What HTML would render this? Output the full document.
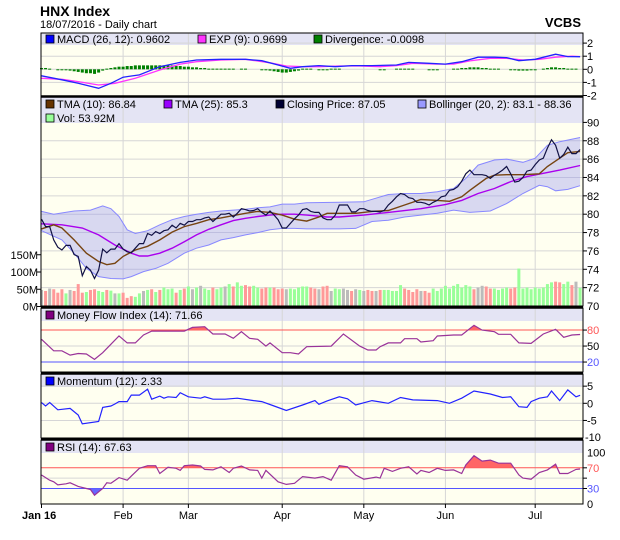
<!DOCTYPE html>
<html><head><meta charset="utf-8">
<style>
html,body{margin:0;padding:0;background:#fff;}
body{width:620px;height:535px;overflow:hidden;font-family:"Liberation Sans",sans-serif;}
svg text{font-family:"Liberation Sans",sans-serif;}
</style></head>
<body>
<svg id="chart" width="620" height="535" viewBox="0 0 620 535" xmlns="http://www.w3.org/2000/svg">
<text x="40" y="16" font-size="14" font-weight="bold" fill="#000">HNX Index</text>
<text x="40" y="28" font-size="11" fill="#000">18/07/2016 - Daily chart</text>
<text x="581" y="27" font-size="13" font-weight="bold" text-anchor="end" fill="#000">VCBS</text>
</svg>
<script>
// ---- data ----
const monthLabels = ["Jan 16","Feb","Mar","Apr","May","Jun","Jul"];
const monthStartIdx = [0,20,36,59,79,99,121];
const closePrice = [79.45,78.65,78.65,77.2,76.4,76.1,76.6,76.6,75.6,75.4,73.3,74.3,73.9,73.0,73.9,76.2,75.8,76.2,76.2,76.8,
76.2,75.9,75.8,76.3,76.8,76.8,77.9,77.7,78.1,77.9,78.2,78.3,78.8,78.5,79.0,78.8,
79.2,79.2,79.4,79.4,79.6,79.7,79.2,79.6,80.0,80.0,80.1,79.7,80.1,80.6,80.5,80.35,80.4,80.6,80.2,79.9,80.35,79.9,79.4,
78.5,78.5,79.0,79.5,79.9,80.5,80.6,80.3,80.2,80.2,79.6,79.4,79.4,79.9,81.0,81.0,81.0,80.25,80.25,80.6,
80.6,80.4,80.3,80.3,80.25,80.4,81.0,81.4,81.9,82.25,82.15,81.8,81.7,81.3,81.3,81.2,81.0,81.3,81.5,81.9,
82.0,82.6,82.7,83.0,83.6,84.4,84.8,84.3,84.3,84.3,84.2,83.9,84.25,84.5,84.8,85.2,84.4,83.5,83.6,84.0,84.7,84.8,
85.4,85.9,86.1,87.2,88.1,87.5,86.1,86.5,87.3,86.6,86.6,87.05];
const volumeM = [48,45,52,50,40,50,38,48,45,65,40,42,48,50,45,42,48,46,38,38,
40,25,30,28,38,45,48,50,42,48,55,50,52,40,48,52,
58,50,55,60,52,48,55,50,55,58,65,58,70,60,62,58,60,55,52,55,55,55,50,
52,50,52,50,55,58,58,55,52,50,58,60,45,52,50,52,48,45,50,48,
45,48,45,45,48,48,48,45,45,62,52,48,42,50,45,45,40,52,45,52,
60,52,60,65,55,62,58,50,55,60,58,52,52,48,52,55,52,55,110,52,55,50,
55,52,55,65,70,72,70,65,72,62,72,54];
const tma10Idx = [0,3,5,8,11,14,16,18,20,23,26,29,32,35,38,41,44,47,50,53,56,59,62,65,68,70,73,77,81,85,89,93,97,100,103,105,109,111,114,118,122,124,127,129,132];
const tma10Val = [78.4,78.85,78.5,77.2,75.75,74.85,74.5,74.65,75.4,76.1,76.5,77.2,78.05,78.65,79.0,79.4,79.6,79.85,80.1,80.3,80.2,79.9,79.45,79.25,79.7,80.1,80.1,80.1,80.3,80.4,81.0,81.6,81.5,81.4,81.9,82.6,83.9,84.25,84.3,84.3,84.4,85.2,86.1,86.7,86.84];
const tma25Idx = [0,5,10,14,18,22,24,26,29,32,35,38,41,44,47,50,53,56,59,62,65,70,73,79,85,93,99,103,107,111,115,119,123,127,132];
const tma25Val = [78.95,78.85,78.5,77.75,76.65,75.75,75.45,75.45,75.75,76.3,77.0,77.75,78.35,78.85,79.3,79.55,79.75,79.9,80.0,80.0,79.9,79.7,79.7,79.9,80.2,80.6,81.05,81.5,82.25,82.8,83.55,84.1,84.45,84.8,85.3];
const bollUpIdx = [0,3,8,12,15,17,19,21,23,26,29,32,35,38,41,44,47,50,53,56,59,62,65,73,79,85,89,93,97,101,104,107,111,114,118,121,124,127,132];
const bollUpVal = [80.3,80.0,80.35,80.45,80.9,80.6,79.75,78.3,77.9,78.2,78.85,79.4,79.75,80.0,80.2,80.35,80.45,80.55,80.7,80.8,81.1,81.1,81.25,81.3,81.35,82.15,82.25,82.25,82.45,82.8,83.9,85.35,85.9,86.0,85.65,86.1,87.5,87.9,88.36];
const bollLoIdx = [0,5,8,11,14,17,20,22,25,28,31,33,35,38,41,44,47,50,53,56,59,62,65,68,73,77,81,85,89,93,97,101,105,110,114,118,122,124,126,129,132];
const bollLoVal = [78.2,77.2,75.75,74.1,73.2,73.0,72.95,73.2,73.75,74.1,74.65,75.2,75.75,76.3,76.65,77.2,77.45,77.75,78.0,78.3,78.45,78.45,78.4,78.4,78.4,78.45,79.2,79.35,79.7,79.9,80.1,80.45,80.2,80.35,81.15,82.25,83.15,83.0,82.55,82.7,83.1];
const macdIdx = [0,5,9,14,17,20,24,29,34,38,44,50,54,58,61,64,68,72,76,81,87,90,95,99,103,107,111,114,117,121,126,129,132];
const macdVal = [-0.5,-0.8,-1.07,-1.45,-1.07,-0.6,-0.43,0.2,0.53,0.71,0.76,0.76,0.66,0.33,0.08,0.2,0.28,0.2,0.28,0.28,0.33,0.53,0.46,0.4,0.58,0.92,0.92,0.89,0.66,0.76,1.15,0.97,0.96];
const signalIdx = [0,5,9,14,18,23,29,34,38,44,50,56,60,64,68,73,78,83,87,91,97,101,105,110,114,118,122,126,130,132];
const signalVal = [-0.69,-0.76,-0.94,-1.2,-1.07,-0.69,-0.05,0.4,0.58,0.71,0.76,0.5,0.25,0.2,0.2,0.25,0.25,0.2,0.28,0.46,0.4,0.4,0.64,0.84,0.84,0.71,0.76,0.92,1.0,0.97];
const divergence = [0.1,0.1,0.05,0,-0.05,-0.05,-0.05,-0.1,-0.15,-0.2,-0.25,-0.3,-0.3,-0.35,-0.25,-0.1,
0.05,0.1,0.15,0.2,0.2,0.25,0.25,0.3,0.3,0.3,0.3,0.3,0.3,0.3,0.3,0.3,0.3,0.25,0.25,0.2,0.2,0.15,0.15,0.1,0.1,
0.05,0.05,0.05,0.05,0.05,0.05,0.05,0,0.05,0.05,0,0,0,
-0.05,-0.05,-0.1,-0.15,-0.2,-0.25,-0.25,-0.2,-0.15,-0.1,
0.05,0.05,0.05,0,-0.05,-0.05,-0.05,0.05,0.05,0.05,0,0,0,0,0,0,0,0,0,-0.05,-0.05,0,0,
0.05,0.05,0.05,0.05,0.05,0,0,0,-0.05,-0.05,-0.05,0,0,0,
0.05,0.05,0.1,0.1,0.15,0.15,0.15,0.1,0.1,0.05,0.05,0.05,0,0,
-0.05,-0.05,-0.1,-0.1,-0.1,-0.05,-0.05,0,
0.05,0.1,0.15,0.15,0.1,0.1,0.05,0.05,0.05,0];
const mfiIdx = [0,3,5,7,9,11,13,15,19,21,23,25,27,35,37,40,42,45,47,49,51,53,55,56,59,61,63,65,71,74,78,80,82,83,85,88,89,92,93,96,97,101,103,106,108,111,112,115,117,120,123,126,128,130,132];
const mfiVal = [62.6,41,41,33,36,35,25,37.5,69,56,56,70.7,78,78,85,86.3,72.6,72.6,64.5,77,64.5,62.6,50,56,37.5,37.5,35,48.8,50,72.6,50,42.6,42.6,48.8,56,56,63.8,63.8,57.6,60,68.9,70.7,70.7,88.9,80,77,72,72,56,55,72.6,81.4,66.4,70.7,71.66];
const momIdx = [0,1,2,4,7,9,10,14,15,17,18,19,21,22,24,26,27,29,30,31,33,34,36,39,40,42,45,48,52,54,57,60,64,67,68,70,73,75,77,81,85,88,91,97,100,103,106,110,113,115,117,119,120,122,124,125,127,129,131,132];
const momVal = [0.2,-0.8,0.2,-1.9,-1.5,-3.4,-6.0,-5.3,-1.2,-0.8,-0.2,0.5,0.5,2.4,2.4,4.1,1.2,2.1,1.5,1.9,1.7,3.1,1.9,1.5,1.9,1.2,1.2,1.5,0.8,0.5,-0.8,-2.1,-0.5,0.8,-0.3,0.7,1.9,1.3,-0.5,0.8,0,1.7,1.0,0.8,0,1.5,3.6,2.7,1.7,1.9,-1.0,-1.2,0.5,1.5,1.9,3.6,0.8,3.9,1.9,2.33];
const rsiIdx = [0,2,3,4,6,7,9,11,12,13,15,16,17,19,21,22,24,26,28,29,31,33,34,35,37,39,40,42,44,46,47,49,51,53,54,55,58,60,62,64,67,69,71,73,75,77,79,82,83,84,86,88,90,92,93,95,97,99,101,103,104,106,108,110,112,115,117,118,120,122,124,126,127,129,131,132];
const rsiVal = [56,46,43,37,39,41,34,30,28,17,30,41,40,51,46,54,69,74,74,59,71,69,65,74,75.5,73.5,67,66,72,61,69,73.5,66,65,50,65,43,38,40,53,50,53,46,74,72,56,48,52,50,69,63,69,72,58,65,61,69,65,66,59,75.5,93.5,83,85,79,79,56,50,48,61,66,77,59,59,67,67.63];

// ---- geometry ----
const NS = "http://www.w3.org/2000/svg";
const svg = document.getElementById('chart');
const L = 41, R = 583;
const xOf = i => 41.5 + i * 4.08;
const yMacd = v => 69.3 - v * 13.1;
const yPrice = v => 306 - (v - 70) * 9.18;
const yVol = m => 306.5 - m * 0.345;
const yMfi = v => 372.7 - v * 0.533;
const yMom = v => 403.3 - v * 3.43;
const yRsi = v => 504 - v * 0.517;

function el(tag, attrs, parent) {
  const e = document.createElementNS(NS, tag);
  for (const k in attrs) e.setAttribute(k, attrs[k]);
  (parent || svg).appendChild(e);
  return e;
}
function txt(s, attrs, parent) { const t = el('text', attrs, parent); t.textContent = s; return t; }
function pts(idx, vals, yf) { return idx.map((d, k) => xOf(d).toFixed(1) + ',' + yf(vals[k]).toFixed(1)).join(' '); }

const panels = [
  {name:'macd', top:33, leg:45, bot:96},
  {name:'price', top:97, leg:123, bot:306},
  {name:'mfi', top:308, leg:321, bot:372},
  {name:'momentum', top:374, leg:387, bot:438},
  {name:'rsi', top:440, leg:453, bot:504}
];
panels.forEach(p => {
  const band = el('rect', {x:L, y:p.top, width:R-L, height:p.leg-p.top, fill:'#e4e4f4'});
  
  
  const bg = el('rect', {x:L, y:p.leg, width:R-L, height:p.bot-p.leg, fill:'#fffff0'});
  
  
  monthStartIdx.forEach(d => {
    if (d === 0) return;
    const g = el('line', {x1:xOf(d), x2:xOf(d), y1:p.top, y2:p.bot, stroke:'#d6d6d6', 'stroke-width':1});
    
    
  });
});

function hgrid(y, color, name, label, lc, labelName) {
  const g = el('line', {x1:L, x2:R, y1:y, y2:y, stroke:color, 'stroke-width':1});
  
  
  el('line', {x1:R, x2:R+4, y1:y, y2:y, stroke:'#000'});
  if (label !== null) {
    const t = txt(label, {x:587, y:y+4, 'font-size':11, fill:lc || '#000'});
    
    
  }
}
// macd grid
[2,1,0,-1,-2].forEach(v => hgrid(yMacd(v), v === -2 ? 'none' : '#d6d6d6', 'macd-gridline', String(v), '#000', 'macd-axis-label'));
[72,74,76,78,80,82,84,86,88,90].forEach(v => hgrid(yPrice(v), v === 90 ? 'none' : '#d6d6d6', 'price-gridline', String(v), '#000', 'price-axis-label'));
txt('70', {x:587, y:310, 'font-size':11});
hgrid(yMfi(80), '#ff5555', 'mfi-overbought-line', '80', '#ff5555', 'mfi-axis-label');
hgrid(yMfi(50), '#d6d6d6', 'mfi-gridline', '50', '#000', 'mfi-axis-label');
hgrid(yMfi(20), '#5555ff', 'mfi-oversold-line', '20', '#5555ff', 'mfi-axis-label');
[5,0,-5].forEach(v => hgrid(yMom(v), '#d6d6d6', 'momentum-gridline', String(v), '#000', 'momentum-axis-label'));
txt('-10', {x:585, y:441, 'font-size':11});
txt('100', {x:587, y:yRsi(100)+4, 'font-size':11});
hgrid(yRsi(70), '#ff5555', 'rsi-overbought-line', '70', '#ff5555', 'rsi-axis-label');
hgrid(yRsi(50), '#d6d6d6', 'rsi-gridline', null);
hgrid(yRsi(30), '#5555ff', 'rsi-oversold-line', '30', '#5555ff', 'rsi-axis-label');
txt('0', {x:587, y:508, 'font-size':11});

// volume labels
[[0,'0M'],[50,'50M'],[100,'100M'],[150,'150M']].forEach(([m, s]) => {
  const t = txt(s, {x:38, y:yVol(m)+4, 'font-size':11, 'text-anchor':'end'});
  
  
  el('line', {x1:L-4, x2:L, y1:yVol(m), y2:yVol(m), stroke:'#000'});
});

// ---- MACD panel ----
divergence.forEach((v, i) => {
  if (v === 0) return;
  const y0 = yMacd(0), y1 = yMacd(v);
  const b = el('rect', {x:xOf(i)-1.5, y:Math.min(y0, y1), width:3, height:Math.max(1, Math.abs(y1-y0)), fill:'#008000'});
  
  
});
const sigLine = el('polyline', {points:pts(signalIdx, signalVal, yMacd), fill:'none', stroke:'#ff33ff', 'stroke-width':1.3});


const macdLine = el('polyline', {points:pts(macdIdx, macdVal, yMacd), fill:'none', stroke:'#2222ff', 'stroke-width':1.3});



// ---- price panel ----
volumeM.forEach((m, i) => {
  const prev = i > 0 ? closePrice[i-1] : closePrice[i];
  const c = closePrice[i] > prev ? '#99ff99' : (closePrice[i] < prev ? '#ff9999' : '#bbbbbb');
  const b = el('rect', {x:xOf(i)-1.5, y:yVol(m), width:3, height:306-yVol(m), fill:c});
  
  
});
const bandPts = pts(bollUpIdx, bollUpVal, yPrice) + ' ' + bollLoIdx.map((d, k) => xOf(d).toFixed(1) + ',' + yPrice(bollLoVal[k]).toFixed(1)).reverse().join(' ');
const band = el('polygon', {points:bandPts, fill:'#9999ee', 'fill-opacity':0.38, stroke:'none'});


const bu = el('polyline', {points:pts(bollUpIdx, bollUpVal, yPrice), fill:'none', stroke:'#8888ff', 'stroke-width':1});


const bl = el('polyline', {points:pts(bollLoIdx, bollLoVal, yPrice), fill:'none', stroke:'#8888ff', 'stroke-width':1});


const t25 = el('polyline', {points:pts(tma25Idx, tma25Val, yPrice), fill:'none', stroke:'#aa00ee', 'stroke-width':1.4});


const t10 = el('polyline', {points:pts(tma10Idx, tma10Val, yPrice), fill:'none', stroke:'#774411', 'stroke-width':1.4});


const cl = el('polyline', {points:pts(closePrice.map((_, i) => i), closePrice, yPrice), fill:'none', stroke:'#111144', 'stroke-width':1.2});



// ---- threshold fill helper ----
let clipN = 0;
function thresholdFill(idx, vals, yf, thr, above, color, name) {
  const yT = yf(thr);
  const id = 'clip' + (clipN++);
  const cp = el('clipPath', {id:id});
  if (above) el('rect', {x:L, y:0, width:R-L, height:yT}, cp);
  else el('rect', {x:L, y:yT, width:R-L, height:535-yT}, cp);
  const p = xOf(idx[0]).toFixed(1) + ',' + yT + ' ' + pts(idx, vals, yf) + ' ' + xOf(idx[idx.length-1]).toFixed(1) + ',' + yT;
  const poly = el('polygon', {points:p, fill:color, 'clip-path':'url(#' + id + ')'});
  
  
}
thresholdFill(mfiIdx, mfiVal, yMfi, 80, true, '#ff6666', 'mfi-overbought-fill');
thresholdFill(mfiIdx, mfiVal, yMfi, 20, false, '#6666ff', 'mfi-oversold-fill');
const mfiLine = el('polyline', {points:pts(mfiIdx, mfiVal, yMfi), fill:'none', stroke:'#993399', 'stroke-width':1.2});


const momLine = el('polyline', {points:pts(momIdx, momVal, yMom), fill:'none', stroke:'#2222ff', 'stroke-width':1.2});


thresholdFill(rsiIdx, rsiVal, yRsi, 70, true, '#ff6666', 'rsi-overbought-fill');
thresholdFill(rsiIdx, rsiVal, yRsi, 30, false, '#6666ff', 'rsi-oversold-fill');
const rsiLine = el('polyline', {points:pts(rsiIdx, rsiVal, yRsi), fill:'none', stroke:'#993399', 'stroke-width':1.2});



// ---- borders ----
panels.forEach((p, k) => {
  const f = el('rect', {x:L, y:p.top, width:R-L, height:p.bot-p.top, fill:'none', stroke:'#000', 'stroke-width':1});
  
  
  if (k > 0) el('line', {x1:L, x2:R, y1:p.top-0.5, y2:p.top-0.5, stroke:'#000', 'stroke-width':2.5});
});

// ---- legends ----
function legend(x, y, color, label, name) {
  const s = el('rect', {x:x, y:y-8, width:8, height:8, fill:color, stroke:'#000', 'stroke-width':0.8});
  
  
  const t = txt(label, {x:x+11, y:y, 'font-size':11, fill:'#000'});
  
  
}
legend(46, 43, '#0000ff', 'MACD (26, 12): 0.9602', 'legend-macd');
legend(198, 43, '#ff33ff', 'EXP (9): 0.9699', 'legend-exp');
legend(314, 43, '#008000', 'Divergence: -0.0098', 'legend-divergence');
legend(46, 108, '#663300', 'TMA (10): 86.84', 'legend-tma10');
legend(164, 108, '#9900ff', 'TMA (25): 85.3', 'legend-tma25');
legend(276, 108, '#000033', 'Closing Price: 87.05', 'legend-closing-price');
legend(418, 108, '#9999ff', 'Bollinger (20, 2): 83.1 - 88.36', 'legend-bollinger');
legend(46, 122, '#99ff99', 'Vol: 53.92M', 'legend-volume');
legend(46, 319, '#800080', 'Money Flow Index (14): 71.66', 'legend-mfi');
legend(46, 385, '#0000ff', 'Momentum (12): 2.33', 'legend-momentum');
legend(46, 451, '#800080', 'RSI (14): 67.63', 'legend-rsi');

// ---- x axis ----
monthStartIdx.forEach((d, k) => {
  const first = k === 0;
  el('line', {x1:xOf(d), x2:xOf(d), y1:504, y2:508, stroke:'#000'});
  const t = txt(monthLabels[k], {x:first ? 22 : xOf(d), y:519, 'font-size':11, 'text-anchor':first ? 'start' : 'middle', 'font-weight':first ? 'bold' : 'normal'});
  
  
});
</script>
</body></html>
